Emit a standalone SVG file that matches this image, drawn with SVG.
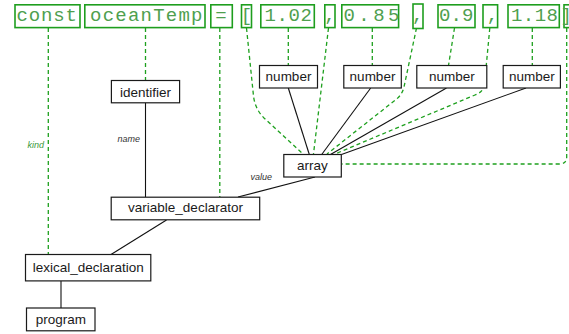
<svg xmlns="http://www.w3.org/2000/svg" width="569" height="334" viewBox="0 0 569 334">
  <style>
    .tok rect { fill: #ffffff; stroke: #1e9e1e; stroke-width: 1.6; }
    .tok text { font-family: "Liberation Mono", "Courier New", monospace; font-size: 19px; fill: #4f9f4f; }
    .node rect { fill: #ffffff; stroke: #1a1a1a; stroke-width: 1.2; }
    .node text { font-family: "Liberation Sans", Arial, sans-serif; font-size: 13.5px; fill: #1a1a1a; text-anchor: middle; }
    .edge { fill: none; stroke: #111111; stroke-width: 1.1; }
    .src { fill: none; stroke: #1ea01e; stroke-width: 1.3; stroke-dasharray: 4 3; }
    .lbl { font-family: "Liberation Sans", Arial, sans-serif; font-size: 9px; font-style: italic; fill: #333333; text-anchor: end; }
    .lbl.kind { fill: #3a9a3a; }
  </style>

  <!-- connectors: token links (dashed) and tree edges (solid) -->
  <g id="connectors">
    <path class="src" d="M48.3 28 L48.3 254"/>
    <path class="src" d="M145.5 28 L145.5 80.5"/>
    <path class="src" d="M219.8 28 L219.8 197"/>
    <path class="src" d="M246.5 28 L253.5 96 Q255 109 264 118 L303 154"/>
    <path class="src" d="M288.3 28 L288.3 65.5"/>
    <path class="src" d="M328.5 28 L313.5 154"/>
    <path class="src" d="M372.3 28 L372.3 65.5"/>
    <path class="src" d="M416.5 28 L404 87 Q402 95 396 99.5 L327 154"/>
    <path class="src" d="M454.5 28 L448.5 65.5"/>
    <path class="src" d="M489.8 28 L484.5 84 Q483.5 92 475 95 L335 154"/>
    <path class="src" d="M532.3 28 L532.3 65.5"/>
    <path class="src" d="M566.7 28 L566.7 157 Q566.7 164 559 164 L341.7 164"/>

    <path class="edge" d="M288.3 88 L309.3 154.5"/>
    <path class="edge" d="M370.7 88 L321.7 154.5"/>
    <path class="edge" d="M446.5 88 L330.5 154.5"/>
    <path class="edge" d="M526 88 L341.5 154.5"/>
    <path class="edge" d="M145.5 102.8 L145.5 197"/>
    <path class="edge" d="M315 177 L238 197"/>
    <path class="edge" d="M166.5 220 L111 254.5"/>
    <path class="edge" d="M61 281 L61 308"/>

    <text class="lbl kind" x="44" y="148">kind</text>
    <text class="lbl" x="140" y="142">name</text>
    <text class="lbl" x="272" y="180">value</text>
  </g>

  <!-- source tokens -->
  <g id="tok-const" class="tok"><rect x="15" y="4.8" width="65" height="22.8"/><text x="16.5" y="21" textLength="60.5" lengthAdjust="spacing">const</text></g>
  <g id="tok-oceanTemp" class="tok"><rect x="84.8" y="4.8" width="120.2" height="22.8"/><text x="90" y="21" textLength="112.5" lengthAdjust="spacing">oceanTemp</text></g>
  <g id="tok-eq" class="tok"><rect x="210.8" y="4.8" width="21.5" height="22.8"/><text x="221" y="21" text-anchor="middle">=</text></g>
  <g id="tok-lbracket" class="tok"><rect x="241.5" y="4.8" width="10" height="22.8"/><text x="246.5" y="21" text-anchor="middle">[</text></g>
  <g id="tok-n1" class="tok"><rect x="260.8" y="4.8" width="53.5" height="22.8"/><text x="264.5" y="21" textLength="47.5" lengthAdjust="spacing">1.02</text></g>
  <g id="tok-c1" class="tok"><rect x="324.8" y="4.8" width="10.2" height="22.8"/><text x="330" y="21" text-anchor="middle">,</text></g>
  <g id="tok-n2" class="tok"><rect x="341.8" y="4.8" width="56.8" height="22.8"/><text x="343.5" y="21" textLength="56" lengthAdjust="spacing">0.85</text></g>
  <g id="tok-c2" class="tok"><rect x="413" y="4" width="10" height="24.5"/><text x="417.8" y="21" text-anchor="middle">,</text></g>
  <g id="tok-n3" class="tok"><rect x="438" y="4.8" width="37" height="22.8"/><text x="439" y="21" textLength="34.5" lengthAdjust="spacing">0.9</text></g>
  <g id="tok-c3" class="tok"><rect x="483" y="4.8" width="14.6" height="22.8"/><text x="492.5" y="21" text-anchor="middle">,</text></g>
  <g id="tok-n4" class="tok"><rect x="508" y="4.8" width="51.3" height="22.8"/><text x="511" y="21" textLength="47" lengthAdjust="spacing">1.18</text></g>
  <g id="tok-rbracket" class="tok"><rect x="564" y="4.8" width="14" height="22.8"/><text x="566.3" y="21" text-anchor="middle">]</text></g>

  <!-- syntax tree nodes -->
  <g id="identifier" class="node"><rect x="111.4" y="80.5" width="68.2" height="22.3"/><text x="145.5" y="96.5">identifier</text></g>
  <g id="number-1" class="node"><rect x="259.5" y="65.5" width="58" height="22.5"/><text x="288.5" y="81">number</text></g>
  <g id="number-2" class="node"><rect x="343.8" y="65.5" width="57.5" height="22.5"/><text x="372.5" y="81">number</text></g>
  <g id="number-3" class="node"><rect x="416.8" y="65.5" width="70" height="22.5"/><text x="451.8" y="81">number</text></g>
  <g id="number-4" class="node"><rect x="503.2" y="65.5" width="57.2" height="22.5"/><text x="531.8" y="81">number</text></g>
  <g id="array" class="node"><rect x="283.8" y="154.5" width="57.5" height="22.5"/><text x="312.5" y="170">array</text></g>
  <g id="variable_declarator" class="node"><rect x="111.2" y="197.2" width="148.5" height="22.6"/><text x="185.5" y="212">variable_declarator</text></g>
  <g id="lexical_declaration" class="node"><rect x="25.5" y="254.5" width="125.3" height="26.4"/><text x="88.2" y="272">lexical_declaration</text></g>
  <g id="program" class="node"><rect x="26.5" y="308" width="68.5" height="22.8"/><text x="60.8" y="323.5">program</text></g>
</svg>
